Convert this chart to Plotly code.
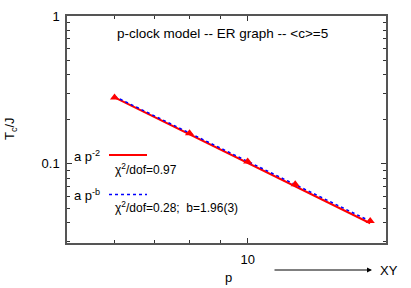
import math
import plotly.graph_objects as go

# ---- data ----
p_vals = [6, 8, 10, 12, 16]
tc_vals = [0.281, 0.161, 0.104, 0.0730, 0.0412]

fit_p = [6, 16]
fit_pow2 = [0.282, 0.0397]      # a p^-2
fit_powb = [0.286, 0.0410]      # a p^-b, b=1.96(3)

x_major = [10]
x_minor = [5, 6, 7, 8, 9]
y_major = [0.1, 1]
y_minor = [0.03, 0.04, 0.05, 0.06, 0.07, 0.08, 0.09,
           0.2, 0.3, 0.4, 0.5, 0.6, 0.7, 0.8, 0.9]

W, H = 411, 288
L, R, T, B = 67, 386, 16, 243   # plot-area pixel edges
FONT = "Liberation Sans, Arial, Helvetica, sans-serif"


def px(x):
    return (x - L) / (R - L)


def py(y):
    return (B - y) / (B - T)


fig = go.Figure()
fig.add_trace(go.Scatter(x=fit_p, y=fit_pow2, mode="lines",
                         line=dict(color="#ff0000", width=2), showlegend=False))
fig.add_trace(go.Scatter(x=fit_p, y=fit_powb, mode="lines",
                         line=dict(color="#0000ff", width=1.5, dash="dot"), showlegend=False))
fig.add_trace(go.Scatter(x=p_vals, y=tc_vals, mode="markers",
                         marker=dict(symbol="triangle-up", size=8, color="#ff0000",
                                     line=dict(width=0)), showlegend=False))

axis_common = dict(
    type="log", showgrid=False, zeroline=False, showline=True,
    linecolor="#555555", linewidth=1.5, mirror="ticks",
    ticks="inside", ticklen=5, tickwidth=1, tickcolor="#333333",
    tickfont=dict(family=FONT, size=13, color="black"),
    automargin=False,
)

fig.update_xaxes(**axis_common,
                 range=[math.log10(5), math.log10(17)],
                 tickmode="array", tickvals=x_major, ticktext=["10"],
                 ticklabelstandoff=4,
                 minor=dict(tickmode="array", tickvals=x_minor, ticks="inside",
                            ticklen=3, tickcolor="#333333"))
fig.update_yaxes(**axis_common,
                 range=[math.log10(0.0292), 0],
                 tickmode="array", tickvals=y_major, ticktext=["0.1", "1"],
                 ticklabelstandoff=3,
                 minor=dict(tickmode="array", tickvals=y_minor, ticks="inside",
                            ticklen=3, tickcolor="#333333"))

ann = []


def text(x, y, s, size=13, xanchor="left", **kw):
    ann.append(dict(x=px(x), y=py(y), xref="paper", yref="paper", text=s,
                    showarrow=False, xanchor=xanchor, yanchor="middle",
                    font=dict(family=FONT, size=size, color="black"), **kw))


text(222, 33, "p-clock model -- ER graph -- &lt;c&gt;=5", size=13.5, xanchor="center")
text(72, 156, "a p<sup>-2</sup>")
text(113, 169, "χ<sup>2</sup>/dof=0.97", size=12)
text(72, 195, "a p<sup>-b</sup>")
text(113, 207, "χ<sup>2</sup>/dof=0.28;\u00a0 b=1.96(3)", size=12)
text(228, 277, "p", xanchor="center")
text(378, 270, "XY")
ann.append(dict(x=px(10), y=py(129), xref="paper", yref="paper",
                text="T<sub>c</sub>/J", showarrow=False, textangle=-90,
                xanchor="center", yanchor="middle",
                font=dict(family=FONT, size=13, color="black")))
# arrow toward XY
ann.append(dict(x=px(372), y=py(270), xref="paper", yref="paper", text="",
                showarrow=True, ax=-99, ay=0, arrowhead=2, arrowsize=1,
                arrowwidth=1, arrowcolor="black"))

fig.update_layout(
    width=W, height=H,
    margin=dict(l=L, r=W - R, t=T, b=H - B),
    paper_bgcolor="white", plot_bgcolor="white",
    annotations=ann,
    shapes=[
        dict(type="line", xref="paper", yref="paper", x0=px(109), x1=px(147),
             y0=py(155), y1=py(155), line=dict(color="#ff0000", width=2)),
        dict(type="line", xref="paper", yref="paper", x0=px(109), x1=px(147),
             y0=py(194.5), y1=py(194.5), line=dict(color="#0000ff", width=1.5, dash="dot")),
    ],
)

fig.write_html("out.html", config={"displayModeBar": False},
               post_script="document.body.style.margin='0';document.body.style.padding='0';")
